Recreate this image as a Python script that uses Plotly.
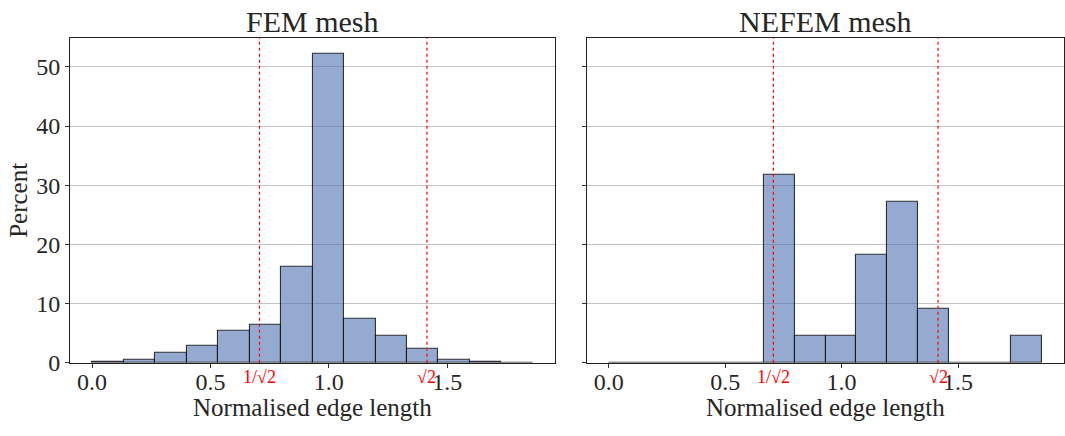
import plotly.graph_objects as go

# ---- data ----
bin_edges = [0.0, 0.133, 0.266, 0.399, 0.532, 0.665, 0.798, 0.931,
             1.064, 1.197, 1.330, 1.463, 1.596, 1.729, 1.862]
fem_percent = [0.15, 0.5, 1.64, 2.9, 5.4, 6.5, 16.26, 52.25,
               7.4, 4.55, 2.3, 0.45, 0.1, 0.05]
nefem_percent = [0.0, 0.0, 0.0, 0.0, 0.0, 31.82, 4.55, 4.55,
                 18.18, 27.27, 9.09, 0.0, 0.0, 4.55]
titles = ["FEM mesh", "NEFEM mesh"]
ref_lines = [0.70711, 1.41421]
ref_labels = ["1/√2", "√2"]
x_tickvals = [0.0, 0.5, 1.0, 1.5]
x_ticktext = ["0.0", "0.5", "1.0", "1.5"]
y_tickvals = [0, 10, 20, 30, 40, 50]
xlabel = "Normalised edge length"
ylabel = "Percent"

FONT = "Liberation Serif"
W, H = 1065, 436
dom_x = [[70 / W, 555 / W], [587 / W, 1064 / W]]
dom_y = [62 / H, 397 / H]
xr = [-0.0931, 1.955]
yr = [0, 54.9]

centers = [(bin_edges[i] + bin_edges[i + 1]) / 2 for i in range(len(bin_edges) - 1)]
widths = [bin_edges[i + 1] - bin_edges[i] for i in range(len(bin_edges) - 1)]

fig = go.Figure()
for k, vals in enumerate([fem_percent, nefem_percent]):
    xa = "x" if k == 0 else "x2"
    ya = "y" if k == 0 else "y2"
    fig.add_trace(go.Bar(
        x=centers, y=vals, width=widths, xaxis=xa, yaxis=ya,
        marker=dict(color="rgba(76,114,176,0.6)",
                    line=dict(color="rgba(20,20,25,0.85)", width=1.1)),
        showlegend=False, hoverinfo="x+y"))

axis_common = dict(showline=True, linecolor="#222", linewidth=1, mirror=True,
                   ticks="outside", ticklen=4, tickcolor="#333",
                   tickfont=dict(family=FONT, size=24, color="#262626"),
                   zeroline=False)

layout = dict(
    width=W, height=H, margin=dict(l=0, r=0, t=0, b=0),
    paper_bgcolor="white", plot_bgcolor="white", bargap=0,
    font=dict(family=FONT, color="#262626"),
)
for k in range(2):
    sx = "" if k == 0 else "2"
    layout["xaxis" + sx] = dict(axis_common, domain=dom_x[k], range=xr,
                                 tickvals=x_tickvals, ticktext=x_ticktext,
                                 ticklabelstandoff=-7,
                                 showgrid=False, anchor="y" + sx)
    layout["yaxis" + sx] = dict(axis_common, domain=dom_y, range=yr,
                                 tickvals=y_tickvals, showgrid=True,
                                 gridcolor="#c4c4c4", gridwidth=1,
                                 showticklabels=(k == 0), anchor="x" + sx)
fig.update_layout(**layout)

shapes = []
annotations = []
for k in range(2):
    sx = "" if k == 0 else "2"
    for v, lab in zip(ref_lines, ref_labels):
        shapes.append(dict(type="line", xref="x" + sx, yref="y" + sx + " domain",
                           x0=v, x1=v, y0=0, y1=1, layer="above",
                           line=dict(color="#ff0000", width=1.2, dash="dot")))
        annotations.append(dict(xref="x" + sx, yref="paper", x=v, y=(H - 389) / H,
                                text=lab, showarrow=False, xanchor="center",
                                yanchor="middle",
                                font=dict(family=FONT, size=18, color="#ff0000")))
    cx = (dom_x[k][0] + dom_x[k][1]) / 2
    annotations.append(dict(xref="paper", yref="paper", x=cx, y=(H - 420) / H,
                            text=xlabel, showarrow=False, xanchor="center",
                            yanchor="middle",
                            font=dict(family=FONT, size=25, color="#262626")))
    annotations.append(dict(xref="paper", yref="paper", x=cx, y=(H - 22) / H,
                            text=titles[k], showarrow=False, xanchor="center",
                            yanchor="middle",
                            font=dict(family=FONT, size=30, color="#262626")))
annotations.append(dict(xref="paper", yref="paper", x=19 / W, y=(H - 207) / H,
                        text=ylabel, showarrow=False, textangle=-90,
                        xanchor="center", yanchor="middle",
                        font=dict(family=FONT, size=25, color="#262626")))
fig.update_layout(shapes=shapes, annotations=annotations)

fig.write_html(
    "out.html",
    config={"displayModeBar": False},
    post_script="document.body.style.margin='0';",
)
